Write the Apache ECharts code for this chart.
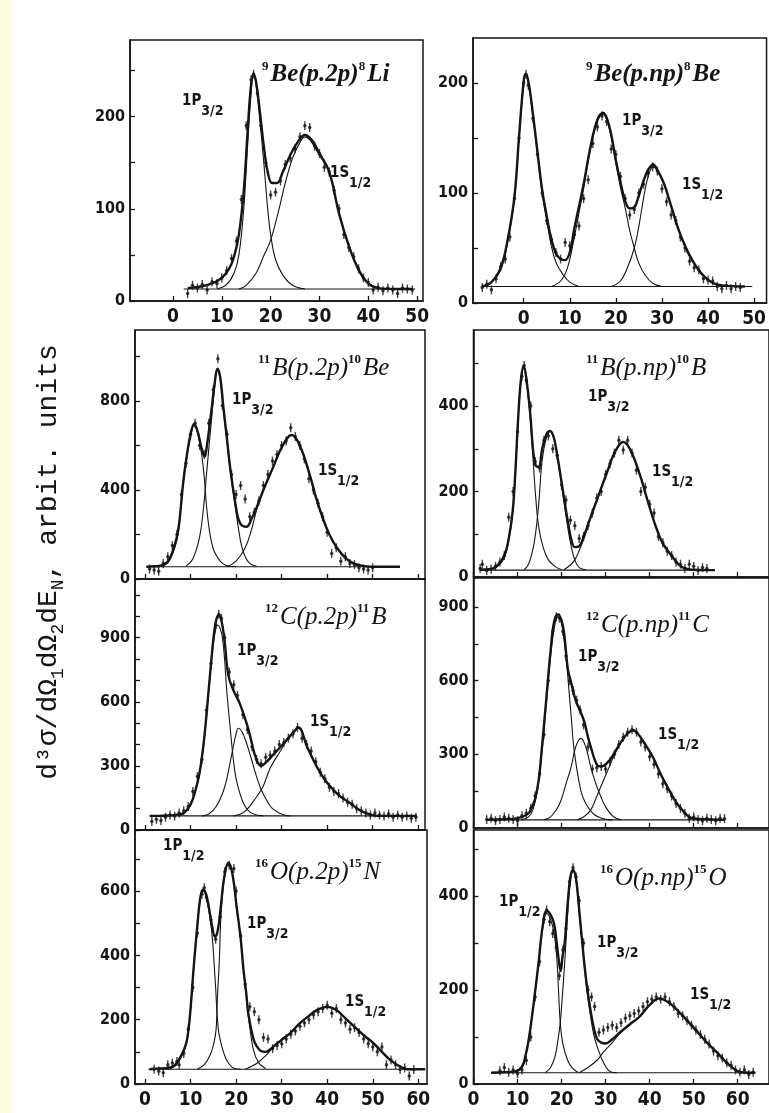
<!DOCTYPE html>
<html><head><meta charset="utf-8">
<script src="https://cdn.jsdelivr.net/npm/echarts@6/dist/echarts.min.js"></script>
<style>html,body{margin:0;padding:0;background:#fff}#c{width:769px;height:1113px}</style>
</head><body><div id="c"></div>
<script>
// ---------------- DATA ----------------
const reactions = [
  ['9','Be(p.2p)','8','Li'], ['9','Be(p.np)','8','Be'],
  ['11','B(p.2p)','10','Be'], ['11','B(p.np)','10','B'],
  ['12','C(p.2p)','11','B'], ['12','C(p.np)','11','C'],
  ['16','O(p.2p)','15','N'], ['16','O(p.np)','15','O']
];
const xTicksTop = [0,10,20,30,40,50];
const xTicksLow = [0,10,20,30,40,50,60];
const yLabels = [[0,100,200],[0,100,200],[0,400,800],[0,200,400],[0,300,600,900],[0,300,600,900],[0,200,400,600],[0,200,400]];
const yTicks = [[0,50,100,150,200,250],[0,50,100,150,200],[0,200,400,600,800,1000],[0,100,200,300,400,500],
  [0,100,200,300,400,500,600,700,800,900,1000,1100],[0,150,300,450,600,750,900],[0,100,200,300,400,500,600,700],[0,100,200,300,400,500]];
const xRange = [[-8.8,51.2],[-11,52.7],[-2.2,61.5],[0,67.1],[-2.2,61.5],[0,67.1],[-2.2,61.9],[0,67.1]];
const yMax = [283,241,1119,578,1175,1018,790,540];

// Panel 1: 9Be(p,2p)8Li
const p1Points = [[3,8],[4,17],[5,14],[6,18],[7,12],[8,21],[9,19],[10,25],[11,33],[12,46],[13,65],[14,110],[15,190],[16,240],[16.5,246],[17.3,225],[18,190],[19,150],[20,115],[21,118],[22,130],[23,148],[24,155],[25,165],[26,178],[27,190],[28,188],[29,168],[30,160],[31,145],[32,140],[33,120],[34,100],[35,72],[36,58],[37,48],[38,35],[39,25],[40,20],[41,12],[42,15],[43,11],[44,14],[45,12],[46,8],[47,14],[48,13],[49,12]];
const p1Total = [[3,14],[6,16],[8,19],[10,25],[11.5,35],[12.5,48],[13.5,72],[14.5,120],[15.3,185],[16,235],[16.5,246],[17,238],[17.8,205],[18.6,168],[19.4,140],[20.3,128],[21.3,128],[22.5,140],[24,158],[25.5,172],[27,180],[28.5,174],[30,160],[32,140],[34,95],[36,60],[38,34],[40,19],[42,14],[46,13],[49,13]];
const p1P32 = [[9,13],[11,18],[12.5,30],[13.5,50],[14.5,100],[15.3,170],[16,225],[16.5,245],[17,235],[17.8,195],[18.6,150],[19.4,100],[20,72],[21,45],[22.5,28],[24.5,17],[27,13]];
const p1S12 = [[13.5,13],[15,17],[17,30],[18.5,48],[20,66],[21.5,95],[23,128],[24.5,155],[26,172],[27,178],[28,175],[30,158],[32,140],[34,95],[36,60],[38,34],[40,19],[42,14]];
const p1Base = [[2.2,13],[49.6,13]];

// Panel 2: 9Be(p,np)8Be
const p2Points = [[-9,14],[-8,17],[-7,12],[-6,22],[-5,33],[-4,40],[-3,60],[-2,95],[-1,150],[0,200],[0.5,208],[1,198],[2,168],[3,135],[4,100],[5,75],[6,58],[7,46],[8,40],[9,55],[10,52],[11,62],[12,70],[13,95],[14,112],[15,145],[16,160],[17,170],[18,165],[19,140],[20,135],[21,115],[22,95],[23,80],[24,85],[25,100],[26,108],[27,118],[28,124],[29,120],[30,104],[31,92],[32,80],[33,75],[34,60],[35,50],[36,38],[37,32],[38,30],[39,22],[40,21],[41,20],[42,15],[43,13],[44,16],[45,13],[46,15],[47,14]];
const p2Total = [[-9,15],[-7,19],[-5,32],[-3.5,57],[-2,97],[-1,152],[0,202],[0.4,208],[1,202],[2,172],[3,137],[4,103],[5,79],[6,58],[7,45],[8,40],[9,39],[10,46],[11,68],[12,88],[13,108],[14.5,142],[16,167],[17.2,173],[18.5,162],[20,130],[21,110],[22,93],[23,86],[24,87],[25,98],[26,111],[27,121],[28.1,126],[29,121],[30.5,108],[32,88],[34.2,60],[37,36],[40,21],[43,16],[48,15]];
const p2G = [[-9,15],[-7,19],[-5,30],[-3.5,55],[-2,95],[-1,150],[0,200],[0.4,207],[1,200],[2,170],[3,135],[4,100],[5,75],[6,52],[7,37],[8.5,26],[10,19],[12,15]];
const p2P32 = [[6,15],[8,20],[9.5,32],[11,60],[12,82],[13,104],[14.5,140],[16,165],[17.2,172],[18.5,160],[20,127],[21,105],[22.1,85],[23,66],[24,50],[25,36],[26.4,25],[28,18],[30,15]];
const p2S12 = [[19,15],[21,20],[22.5,32],[24,50],[25,70],[26,95],[27,115],[28.1,124],[29,120],[30.5,108],[32,88],[33,75],[34.2,60],[35.5,46],[37,36],[38.5,27],[40,21],[42,16]];
const p2Base = [[-8.8,15],[49.6,15]];

// Panel 3: 11B(p,2p)10Be
const p3Points = [[1,45],[2,40],[3,35],[4,70],[5,100],[6,150],[7,200],[8,380],[9,520],[10,650],[11,700],[12,600],[13,560],[14,700],[15,850],[16,990],[17,780],[18,650],[19,470],[20,380],[21,420],[22,360],[23,280],[24,300],[25,350],[26,420],[27,470],[28,530],[29,560],[30,600],[31,620],[32,680],[33,640],[34,600],[35,540],[36,450],[37,400],[38,340],[39,280],[40,210],[41,115],[42,140],[43,80],[44,100],[45,70],[46,65],[47,50],[48,45],[49,40],[50,50]];
const p3Total = [[0.3,55],[2,57],[3.5,60],[5,78],[6,120],[7,190],[7.5,250],[8.4,435],[9,530],[10,650],[10.8,697],[11.6,660],[12.4,590],[13.1,550],[13.6,600],[14.6,760],[15.3,880],[15.9,945],[16.5,910],[17.2,775],[18,630],[18.7,500],[19.8,345],[20.5,270],[21.3,240],[22.3,235],[23.5,275],[24.5,320],[26,400],[28.2,505],[30,590],[32.2,647],[34,600],[36.3,460],[37.5,370],[39.2,265],[40.5,200],[42,145],[44,95],[46,68],[48.5,57],[50,55],[56,55]];
const p3A = [[3.5,55],[5,72],[6,110],[7,175],[7.5,240],[8.4,430],[9,520],[10,640],[10.8,692],[11.6,650],[12.4,565],[13,460],[13.5,330],[14.2,210],[15,135],[16,95],[17,70],[18.5,57],[20,55]];
const p3P32 = [[9,58],[10.5,90],[12,190],[13,350],[13.5,470],[14.6,715],[15.3,860],[15.9,939],[16.5,900],[17.2,760],[18,620],[18.7,490],[19.8,330],[20.5,230],[21.2,150],[22,100],[23,70],[24.5,57]];
const p3S12 = [[18,55],[20,80],[22,140],[23.5,230],[24.5,310],[26,400],[28.2,505],[30,590],[32.2,647],[34,600],[36.3,460],[37.5,370],[39.2,265],[40.5,200],[42,145],[44,95],[46,68],[48.5,57],[50,55]];
const p3Base = [[0.3,55],[56,55]];

// Panel 4: 11B(p,np)10B
const p4Points = [[1.5,20],[2,30],[3,15],[4,18],[5,25],[6,35],[7,50],[8,140],[9,200],[10,340],[11,470],[11.5,495],[12,460],[13,400],[14,270],[15,255],[16,320],[17,330],[18,300],[19,285],[20,215],[21,180],[22,133],[23,120],[24,90],[25,95],[26,120],[27,150],[28,185],[29,200],[30,240],[31,265],[32,290],[33,320],[34,297],[35,320],[36,290],[37,250],[38,200],[39,210],[40,170],[41,150],[42,95],[43,80],[44,60],[45,50],[46,35],[47,30],[48,20],[49,30],[50,25],[51,15],[52,22],[53,20]];
const p4Total = [[1.5,17],[4,19],[5.5,28],[7,50],[8,90],[8.9,155],[9.5,245],[10,345],[10.7,455],[11.4,494],[12,465],[12.9,380],[13.5,300],[14.1,262],[14.8,258],[15.6,300],[16.6,335],[17.4,342],[18.2,328],[18.9,292],[19.8,235],[20.7,175],[21.5,125],[22.2,88],[23,70],[24,72],[25.2,100],[26.5,137],[28,180],[30.5,250],[32,290],[34,316],[35.5,300],[37.7,242],[39.5,180],[41.4,118],[43,78],[45.2,47],[46.5,30],[48,20],[50,17],[54.8,16]];
const p4A = [[4,17],[5.5,25],[7,45],[8,85],[8.9,150],[9.5,240],[10,340],[10.7,450],[11.4,492],[12,460],[12.9,370],[13.5,280],[14.1,190],[14.8,118],[15.8,70],[17,40],[18.5,25],[20,17]];
const p4P32 = [[11.5,17],[12.5,30],[13.5,65],[14.1,102],[14.8,170],[15.6,274],[16.6,328],[17.4,340],[18.2,325],[18.9,289],[19.8,230],[20.7,165],[21.5,110],[22.2,71],[23,40],[24,22],[25.5,17]];
const p4S12 = [[20.5,17],[22,28],[23,40],[24,62],[25.2,94],[26.5,135],[28,180],[30.5,250],[32,290],[34,316],[35.5,300],[37.7,242],[39.5,180],[41.4,118],[43,78],[45.2,47],[46.5,30],[48,20],[50,17]];
const p4Base = [[1.4,16],[54.8,16]];

// Panel 5: 12C(p,2p)11B
const p5Points = [[1.5,40],[2.5,50],[3.5,45],[4.5,60],[5.5,70],[6.5,65],[7.5,80],[8.5,90],[9.5,110],[10.5,180],[11.5,250],[12.5,330],[13.5,560],[14.5,780],[15.5,960],[16.2,1010],[16.8,990],[17.5,900],[18.5,740],[19.5,680],[20.3,630],[21.5,540],[22.5,470],[23.5,390],[24.5,330],[25.5,310],[26.5,340],[27.5,350],[28.5,370],[29.5,400],[30.5,410],[31.5,430],[32.5,450],[33.5,480],[34.5,430],[35.5,400],[36.5,370],[37.5,320],[38.5,270],[39.5,240],[40.5,200],[41.5,180],[42.5,170],[43.5,150],[44.5,130],[45.5,120],[46.5,100],[47.5,90],[48.5,80],[49.5,70],[50.5,80],[51.5,70],[52.5,65],[53.5,75],[54.5,60],[55.5,70],[56.5,60],[57.5,65],[58.5,55],[59.5,60]];
const p5Total = [[1,66],[3,66],[5,68],[7,72],[8.5,80],[10,120],[11,180],[12,270],[13,430],[14,660],[15,890],[15.6,980],[16.2,1005],[16.8,980],[17.5,880],[18.3,725],[19.5,650],[20.8,593],[22.3,500],[23.2,430],[24,360],[24.8,315],[25.5,300],[26.5,315],[28.1,351],[29.6,385],[31.1,421],[32.5,455],[33.7,480],[35.6,390],[37.7,297],[39.5,235],[41.4,187],[43,155],[45.1,125],[47,95],[48.7,78],[51,66],[59.7,66]];
const p5A = [[7.5,66],[9,85],[10,115],[11,175],[12,265],[13,420],[14,650],[15,870],[16,960],[17,900],[18,640],[18.7,480],[19.4,330],[20,240],[21,160],[22,110],[23,85],[24.5,70],[26,66]];
const p5B = [[12.5,66],[14,75],[15.6,109],[17,170],[17.9,234],[19.1,359],[20,450],[20.5,476],[21.3,460],[22.3,406],[23.4,330],[24.5,250],[25.5,190],[26.7,140],[28,100],[30.5,70],[32,66]];
const p5S12 = [[19.5,66],[21,75],[22.3,94],[24,140],[25.9,203],[27.5,290],[29.6,365],[31.5,430],[33.7,476],[35.6,390],[37.7,297],[39.5,235],[41.4,187],[43,155],[45.1,125],[47,95],[48.7,78],[51,66]];
const p5Base = [[1.1,66],[59.7,66]];

// Panel 6: 12C(p,np)11C
const p6Points = [[3,35],[4,40],[5,30],[6,35],[7,45],[8,40],[9,35],[10,30],[11,50],[12,60],[13,80],[14,130],[15,220],[16,380],[17,600],[18,800],[18.8,860],[19.5,855],[20.3,800],[21,700],[21.8,600],[22.6,560],[23.4,520],[24.2,480],[25,420],[26,330],[27,240],[28,245],[29,250],[30,240],[31,270],[32,300],[33,340],[34,370],[35,390],[36,400],[37,390],[38,350],[39,330],[40,290],[41,260],[42,220],[43,180],[44,160],[45,130],[46,100],[47,80],[48,60],[49,40],[50,45],[51,35],[52,30],[53,40],[54,35],[55,30],[56,40],[57,38]];
const p6Total = [[3,33],[6,35],[9,37],[11,45],[12.5,60],[13.3,87],[14,120],[14.8,195],[15.5,320],[16.5,520],[17.5,720],[18.3,840],[19.2,870],[20,845],[20.6,790],[21.4,650],[22.2,590],[23.2,520],[24.4,470],[25.2,430],[26,370],[26.8,320],[27.6,275],[28.4,252],[29.2,252],[30.5,268],[31.8,300],[33.5,350],[35,385],[36.3,398],[37.5,380],[39,340],[40.7,290],[42.5,220],[44.4,155],[46,105],[47.4,73],[49,45],[50.5,38],[57,33]];
const p6A = [[11,33],[12.5,45],[13.5,75],[14.5,150],[15.5,300],[16.5,500],[17.5,700],[18.5,830],[19.2,860],[20,830],[21,700],[21.4,620],[22.2,450],[22.9,310],[24.4,150],[25.5,100],[27.4,55],[29.5,38],[31.5,33]];
const p6B = [[16,33],[17.5,45],[19,80],[19.9,114],[21,180],[22.2,250],[23.2,330],[24.4,365],[25.5,330],[26.6,250],[27.7,185],[28.9,128],[30.2,80],[31.8,46],[33.5,33]];
const p6S12 = [[23.5,33],[25,45],[26.6,73],[27.8,120],[28.9,168],[30.5,235],[31.8,290],[33.5,350],[35,385],[36.3,395],[37.5,380],[39,340],[40.7,290],[42.5,220],[44.4,155],[46,105],[47.4,73],[49,45],[50.5,35]];
const p6Base = [[2.9,33],[57,33]];

// Panel 7: 16O(p,2p)15N
const p7Points = [[2,46],[3,40],[4,35],[5,60],[6,65],[7,70],[7.5,60],[8.5,95],[9.5,170],[10.5,300],[11.5,470],[12.5,590],[13,610],[13.5,580],[14.5,510],[15.5,450],[16.5,520],[17.5,660],[18.5,680],[19.5,670],[20,600],[21,460],[22,310],[23,240],[24,225],[25,200],[26,145],[27,140],[28,110],[29,120],[30,125],[31,140],[32,155],[33,165],[34,180],[35,190],[36,200],[37,215],[38,225],[39,235],[40,245],[41,220],[42,235],[43,200],[44,190],[45,170],[46,175],[47,160],[48,140],[49,125],[50,115],[51,100],[52,115],[53,60],[54,75],[55,60],[56,45],[57,50],[58,25],[59,45]];
const p7Total = [[1,46],[3,48],[5,50],[6.5,58],[8,90],[9,125],[9.5,165],[10,235],[10.6,348],[11.5,495],[12.2,585],[12.8,605],[13.6,580],[14.6,500],[15.4,458],[16,480],[16.7,560],[17.4,645],[18.3,688],[19.2,652],[20.1,552],[21,452],[21.6,358],[22.2,285],[22.7,216],[23.8,140],[24.5,118],[25.5,102],[26.5,100],[27.5,108],[28.5,120],[30,138],[32,160],[34,189],[36,212],[38,232],[40,240],[42,230],[44,204],[45.8,180],[48,152],[50.2,126],[52,100],[53.8,75],[56,54],[57.5,46],[61.5,46]];
const p7P12 = [[4.5,46],[6.5,55],[8,85],[9,120],[9.5,160],[10,230],[10.6,344],[11.5,490],[12.2,580],[12.8,600],[13.6,570],[14.6,480],[15.4,323],[16.1,170],[17,110],[17.9,75],[19.4,50],[21,46]];
const p7P32 = [[11.5,46],[13,60],[14.3,90],[15.1,126],[15.6,170],[15.9,271],[16.3,380],[16.7,530],[17.4,640],[18.3,685],[19.2,650],[20.1,551],[21,450],[21.6,354],[22.2,280],[22.7,209],[23.8,106],[25,65],[26.5,48]];
const p7S12 = [[22,46],[24.5,64],[26.5,88],[28.2,116],[30,135],[32,160],[34,189],[36,212],[38,232],[40,240],[42,230],[44,204],[45.8,180],[48,152],[50.2,126],[52,100],[53.8,75],[56,54],[57.5,46]];
const p7Base = [[0.7,46],[61.5,46]];

// Panel 8: 16O(p,np)15O
const p8Points = [[6,28],[7,35],[8,25],[9,30],[10,22],[11,30],[12,50],[13,100],[14,185],[15,260],[16,350],[16.6,370],[17.3,345],[18,320],[18.8,290],[19.5,230],[20.3,285],[21,330],[21.8,430],[22.6,460],[23.3,440],[24,390],[25,300],[26,200],[26.8,185],[27.5,165],[28.5,110],[29.5,115],[30.5,120],[31.5,125],[32.5,120],[33.5,130],[34.5,140],[35.5,145],[36.5,150],[37.5,155],[38.5,165],[39.5,175],[40.5,180],[41.5,185],[42.5,180],[43.5,185],[44.5,175],[45.5,165],[46.5,150],[47.5,145],[48.5,135],[49.5,125],[50.5,115],[51.5,105],[52.5,95],[53.5,85],[54.5,70],[55.5,60],[56.5,55],[57.5,45],[58.5,40],[59.5,30],[60.5,25],[61.5,30],[62.5,20],[63.5,25]];
const p8Total = [[4,24],[7,25],[9.5,27],[11,37],[11.8,60],[12.5,92],[13.3,145],[14,197],[14.8,260],[15.7,335],[16.6,368],[17.5,360],[18.3,340],[18.9,300],[19.4,260],[19.8,240],[20.2,270],[20.7,300],[21.4,385],[22,440],[22.6,455],[23.3,435],[24,370],[25.1,262],[25.8,205],[26.6,155],[27.3,120],[28.1,95],[29,88],[30,86],[31.5,95],[33.3,110],[35.5,127],[37.7,143],[40,168],[42.2,182],[44.5,172],[46.6,154],[49,130],[51.1,108],[53,88],[55.5,65],[57,50],[58.5,37],[60.7,25],[64,24]];
const p8P12 = [[9.5,24],[11,35],[11.8,58],[12.5,90],[13.3,143],[14,195],[14.8,257],[15.7,330],[16.6,363],[17.5,350],[18.3,320],[18.9,270],[19.3,200],[19.7,130],[20.3,85],[21.4,50],[22.5,33],[23.7,25]];
const p8P32 = [[16.3,24],[17.5,35],[18.5,58],[19.2,95],[19.7,130],[20.2,190],[20.7,257],[21.4,363],[22,430],[22.6,452],[23.3,430],[24,363],[25.1,257],[25.8,195],[26.6,143],[27.3,105],[28.1,79],[29.6,44],[31.1,26],[32.5,24]];
const p8S12 = [[24,24],[26,35],[28.1,51],[29.6,69],[31.5,88],[33.3,108],[35.5,126],[37.7,143],[40,168],[42.2,182],[44.5,172],[46.6,154],[49,130],[51.1,108],[53,88],[55.5,65],[57,50],[58.5,37],[60.7,25]];
const p8Base = [[4,24],[64,24]];

const panels = [
  {points:p1Points,total:p1Total,comps:[p1P32,p1S12],base:p1Base},
  {points:p2Points,total:p2Total,comps:[p2G,p2P32,p2S12],base:p2Base},
  {points:p3Points,total:p3Total,comps:[p3A,p3P32,p3S12],base:p3Base},
  {points:p4Points,total:p4Total,comps:[p4A,p4P32,p4S12],base:p4Base},
  {points:p5Points,total:p5Total,comps:[p5A,p5B,p5S12],base:p5Base},
  {points:p6Points,total:p6Total,comps:[p6A,p6B,p6S12],base:p6Base},
  {points:p7Points,total:p7Total,comps:[p7P12,p7P32,p7S12],base:p7Base},
  {points:p8Points,total:p8Total,comps:[p8P12,p8P32,p8S12],base:p8Base}
];

// ---------------- LAYOUT / STYLE ----------------
const INK = '#151515';
const NUMFONT = "'Liberation Sans Narrow','DejaVu Sans Condensed','Roboto Condensed','Liberation Sans',sans-serif";
const gridBoxes = [
  [130,40,293,261],[473,38,302,265],
  [135,330,290,249],[473.5,330,302,247],
  [135,579,290,251],[473.5,578,302,250],
  [135,830,292,254],[473.5,830,302,254]
];
const grids=[], xAxes=[], yAxes=[], series=[];
gridBoxes.forEach((b,i)=>{
  grids.push({left:b[0],top:b[1],width:b[2],height:b[3],show:true,borderColor:INK,borderWidth:1.5,backgroundColor:'transparent'});
  const showX = (i<2 || i>5);
  const xt = (i<2) ? xTicksTop : xTicksLow;
  xAxes.push({type:'value',gridIndex:i,min:xRange[i][0],max:xRange[i][1],
    axisLine:{show:true,onZero:false,lineStyle:{color:INK,width:1.5}},splitLine:{show:false},
    axisTick:{show:true,inside:true,length:5,customValues:xt,lineStyle:{color:INK,width:1.3}},
    axisLabel:{show:showX,customValues:xt,color:INK,fontFamily:NUMFONT,fontWeight:'bold',fontSize:19,margin:7}});
  yAxes.push({type:'value',gridIndex:i,min:0,max:yMax[i],
    axisLine:{show:true,onZero:false,lineStyle:{color:INK,width:1.5}},splitLine:{show:false},
    axisTick:{show:true,inside:true,length:5,customValues:yTicks[i],lineStyle:{color:INK,width:1.3}},
    axisLabel:{show:true,customValues:yLabels[i],color:INK,fontFamily:NUMFONT,fontWeight:'bold',fontSize:16,margin:5}});
  const p = panels[i];
  series.push({type:'line',xAxisIndex:i,yAxisIndex:i,data:p.base,symbol:'none',lineStyle:{color:INK,width:1.1},silent:true});
  p.comps.forEach(c=>series.push({type:'line',xAxisIndex:i,yAxisIndex:i,data:c,smooth:0.4,symbol:'none',lineStyle:{color:INK,width:1.1},silent:true}));
  series.push({type:'line',xAxisIndex:i,yAxisIndex:i,data:p.total,smooth:0.4,symbol:'none',lineStyle:{color:INK,width:2.4},silent:true});
  series.push({type:'scatter',xAxisIndex:i,yAxisIndex:i,data:p.points,symbol:'circle',symbolSize:3.5,itemStyle:{color:INK},silent:true});
  series.push({type:'scatter',xAxisIndex:i,yAxisIndex:i,data:p.points,symbol:'rect',symbolSize:[1.4,9],itemStyle:{color:INK},silent:true});
});

// annotations
const graphics = [
  {type:'rect',shape:{x:0,y:0,width:12,height:1113},style:{fill:'#fffde0'},silent:true}
];
const reacPos = [[262,75,true],[586,75,true],[258,368,false],[586,368,false],[265,617,false],[586,625,false],[255,872,false],[600,878,false]];
reactions.forEach((r,i)=>{
  const pp = reacPos[i];
  graphics.push({type:'text',x:pp[0],y:pp[1],silent:true,style:{
    text:'{s|'+r[0]+'}{m|'+r[1]+'}{s|'+r[2]+'}{m|'+r[3]+'}',
    verticalAlign:'middle',textVerticalAlign:'middle',align:'left',textAlign:'left',
    rich:{
      m:{fontFamily:"'Liberation Serif','DejaVu Serif',serif",fontStyle:'italic',fontWeight:pp[2]?'bold':'normal',fontSize:25,lineHeight:30,fill:INK,color:INK},
      s:{fontFamily:"'Liberation Serif','DejaVu Serif',serif",fontWeight:'bold',fontSize:13,lineHeight:30,verticalAlign:'top',padding:[0,2,12,0],fill:INK,color:INK}
    }}});
});
const peakLabels = [
  ['3/2',182,106],['1/2',330,178],
  ['3/2',622,126],['1/2',682,190],
  ['3/2',232,405],['1/2',318,476],
  ['3/2',588,402],['1/2',652,477],
  ['3/2',237,656],['1/2',310,727],
  ['3/2',578,662],['1/2',658,740],
  ['1/2',163,851],['3/2',247,929],['1/2',345,1007],
  ['1/2',499,907],['3/2',597,948],['1/2',690,1000]
];
const peakNames = ['P','S','P','S','P','S','P','S','P','S','P','S','P','P','S','P','P','S'];
peakLabels.forEach((l,k)=>{
  graphics.push({type:'text',x:l[1],y:l[2],silent:true,style:{
    text:'{a|1'+peakNames[k]+'}{b|'+l[0]+'}',
    verticalAlign:'middle',textVerticalAlign:'middle',align:'left',textAlign:'left',
    rich:{
      a:{fontFamily:NUMFONT,fontSize:15,fontWeight:'bold',lineHeight:24,fill:INK,color:INK,verticalAlign:'top'},
      b:{fontFamily:NUMFONT,fontSize:14,fontWeight:'bold',lineHeight:18,fill:INK,color:INK,verticalAlign:'bottom'}
    }}});
});
graphics.push({type:'text',x:49,y:562,rotation:Math.PI/2,silent:true,style:{
  text:'{m|d³σ/dΩ}{s|1}{m|dΩ}{s|2}{m|dE}{s|N}{m|, arbit. units}',
  align:'center',textAlign:'center',verticalAlign:'middle',textVerticalAlign:'middle',
  rich:{
    m:{fontFamily:"'Liberation Mono','DejaVu Sans Mono',monospace",fontSize:28,lineHeight:36,fill:INK,color:INK},
    s:{fontFamily:"'Liberation Mono','DejaVu Sans Mono',monospace",fontSize:18,lineHeight:19,verticalAlign:'bottom',fill:INK,color:INK}
  }}});

const chart = echarts.init(document.getElementById('c'),null,{renderer:'canvas'});
chart.setOption({animation:false,backgroundColor:'#ffffff',grid:grids,xAxis:xAxes,yAxis:yAxes,series:series,graphic:graphics});
</script></body></html>
